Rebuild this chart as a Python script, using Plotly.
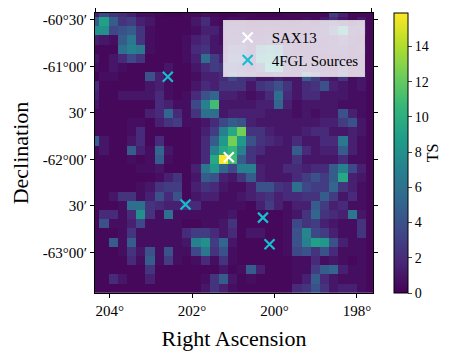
import numpy as np
import plotly.graph_objects as go

# TS map, 31 x 31 cells, first row = top (highest Dec), first column = left (highest RA)
ts_map = [
    [1.4, 3.5, 2.4, 1.9, 1.4, .6, .6, .3, .2, .2, .3, .3, .6, .3, .2, .2, .3, .3, .2, .2, .2, .3, .3, .3, .3, .3, 2.9, 1.4, .3, .3, .3],
    [4.6, 9, 4.6, 2.4, 2.9, 1.4, 1, .3, .3, .3, .3, 1, 1.9, .6, .3, .6, .6, .3, .3, .3, .3, .3, .3, .6, .3, 1, 1.9, 1, .3, 1, .3],
    [8, 8, 3.5, 4, 4.6, 2.4, .6, .3, .3, .3, .3, .6, 1.4, 1.4, .6, 1, 1, .6, .6, 1, .6, .6, .6, .6, 1, 1.4, 3.5, 8, 1.4, 1.4, .3],
    [1.4, 1, .6, 4.6, 6.3, 2.4, .6, .3, .3, .3, .6, 1.4, 1.9, 1, .6, 1.4, 1.4, 1, 1, 1.4, 1, .6, .6, 1, 1, 1, 1.4, 1.9, 1, .6, .3],
    [.3, .3, .3, 5.8, 6.9, 6.3, .6, .3, .3, .3, .6, 1.9, 2.4, 1, 1, 2.4, 2.4, 1.4, 5.8, 6.9, 5.8, 1.4, .6, .6, 1, 1, 1.4, 1.4, .6, 1, .3],
    [1, .3, 1, 1.9, 3.5, 2.4, .3, .3, .3, .3, .6, 1.4, 5.8, 2.9, 1.4, 3.5, 3.5, 1.4, 6.9, 8, 6.9, 1.4, 1, 1, .6, .6, .6, 1, .6, .6, .3],
    [.6, .3, 1, .6, .3, .3, .3, .3, 1, .3, .3, 1, 1.9, 2.9, 2.4, 2.4, 1.9, 1.4, 2.4, 9, 8.5, 1.4, 1, 1.4, 1, 1, .6, 1.9, .6, .6, .3],
    [.2, .6, .6, .3, .3, .3, 4, 1.4, .6, .3, .3, .6, 1.4, 1.4, 1.9, 3.5, 2.4, 1.9, 1, 1, 1.4, 1, 1, 4.6, 2.9, 1.4, 1, 2.4, .6, 1, .3],
    [1.9, .3, .3, .3, .3, .3, 1, 1.4, .6, .3, .3, 1, 1.9, 1.4, 2.4, 2.4, 2.4, 1, 2.4, 2.9, 4, 2.4, 1, 1.9, 2.4, 4, 1.4, 1, .6, 1, .3],
    [1.4, .3, .3, 1, 1, 1, 1, 1.9, .6, .3, .6, 1.9, 4, 5.2, 1.4, 1.4, 1, .6, 1, 1.9, 5.8, 1.9, 1, 1.9, 1.9, 1, 1, 1, .6, .6, .3],
    [1, .3, .3, .3, .3, .3, .3, 1.9, 1.4, .6, .6, 3.5, 6.9, 11, 1, 1, 1, 1, 1.4, 1.4, 5.2, 1.4, .6, 1, 1, 1, 1, .6, .6, .6, .3],
    [.3, .3, .3, .3, .3, .3, 1.4, 1.9, 5.2, 1.9, .6, 2.4, 5.8, 5.8, 1, 1.4, 1.4, 1.4, 1.4, 1, 1, 1, .6, 1, .6, 1, 1, 4, 1.4, .6, .3],
    [.3, .3, .3, .3, .6, .6, .3, 1.4, 2.4, 2.9, .6, .6, 1, 1.9, 3.5, 4.6, 4, 1.4, 1, 1, 1, 1, 1, 1, 1, 1.4, 1.4, 2.9, 4, 1, .3],
    [.3, .3, .3, .3, .6, 1.9, .3, .3, .3, .3, .3, .6, 1.4, 2.9, 6.9, 9.5, 12.5, 2.4, 2.4, 1.4, 1, 1, 1, 1.4, 1.9, 1.9, 1, 1, 1.4, 1, .3],
    [4.6, 1, .3, .3, 1, 1.9, .3, 1.9, .3, .3, .3, .6, 1.9, 4.6, 8.5, 12.5, 8.5, 4, 2.4, 1.9, 1.4, 1, 1.9, 1, 1, 1.9, 1.9, 6.3, 1.4, .6, .3],
    [.3, 1, .3, .3, 4.6, 1.4, .6, 5.2, 1, .3, .3, .6, 1.9, 6.9, 9.5, 10.5, 6.9, 2.4, 1.9, 1, 1, 1, 4.6, 1.9, 1, 1.4, 1.4, 4.6, 1.4, .6, .3],
    [.3, .3, .3, .3, .6, .3, .6, 4.6, .6, .3, .3, .6, 1.9, 9.5, 15.9, 11, 4.6, 2.4, 1, 1, 1, 1, 2.4, 1, 1, 1, 1, 1.9, .6, .6, .3],
    [.3, .3, .3, .3, .3, .6, .6, 1, .3, .3, .3, 1.4, 6.3, 8.5, 5.2, 3.5, 6.9, 6.9, 1.4, 1, 1, 1.9, 1.9, 1.4, 1.9, 1.9, 4.6, 6.9, 3.5, 1.4, .3],
    [.3, .3, .3, .3, .3, .3, .3, .6, 1.4, 2.4, .3, 1, 4.6, 4, 1.4, 1, 2.4, 4.6, 1.4, 1, 1, 1, 1.9, 2.9, 4, 2.9, 4.6, 9.5, 1.4, 1, .3],
    [.3, .3, .3, .3, .3, .6, 1, 2.4, 2.9, 2.9, .3, 1.4, 2.4, 1.9, 1, .6, .6, 1.4, 4, 4, 2.4, 1.9, 5.8, 3.5, 2.9, 2.9, 5.2, 2.4, 1.4, .6, .3],
    [.3, .3, 1, 2.4, 2.4, .6, 1.4, 4, 1.9, 4, .3, 1, 1.4, 1.4, .6, .6, 1, 1.4, 1.9, 2.4, 1.4, 1.9, 1.9, 2.4, 2.4, 4.6, 2.9, 1, 1.9, .6, .3],
    [.3, .3, .3, .6, 5.8, 5.8, 2.4, 1.9, 1.4, 1.4, 1.9, 1.9, .6, .6, .6, .6, .6, .3, 1.4, 2.9, 1.4, .6, 1.4, 1.4, 4.6, 2.9, 1.4, 1.9, .6, .6, .3],
    [.3, 1.9, 1.9, .6, 1.9, 8, 2.4, .6, 5.8, .6, .6, .6, .6, .6, .6, 1, .3, .3, .3, .3, .3, .6, 1, 2.4, 5.2, 2.4, 1.9, 1.4, 6.3, 1, .3],
    [.3, 4, .6, .6, 1.4, 3.5, .6, .6, .6, .6, .3, .3, .6, .6, 1, 2.4, .3, .3, .3, .3, .3, .6, 3.5, 2.4, 2.9, 1.4, 1, .6, .6, 2.4, .3],
    [.3, .3, .3, .6, 2.4, .6, .6, .6, .6, .6, 1.9, 2.9, 2.9, 1.9, 1, 1.9, .3, 1, 1, .3, .3, .6, 4, 7.4, 3.5, 2.9, 1.4, .6, .6, 2.4, .3],
    [.3, .3, 4.6, .6, 4.6, .6, .6, .6, .6, .6, 1, 6.9, 8, 2.9, 5.2, 1, .3, .3, .3, .3, .3, .6, 4, 6.9, 9, 8.5, 4, 1.4, .6, .6, .3],
    [.3, .3, .3, .6, 2.4, 1, 4, .6, 4, .6, .6, 3.5, 6.3, 2.4, 4, .6, .3, .3, .3, .3, .3, .6, 3.5, 4, 2.4, 4, 1.9, .6, .6, .6, .3],
    [.3, .3, .3, .3, 1.9, .6, 4.6, .6, 2.9, .6, .3, .6, 1.9, .6, 2.4, .6, .3, .3, .3, .3, .3, .3, .6, .6, 1.9, .6, 1, .6, .3, .6, .3],
    [.3, .3, .3, .3, .3, .3, 2.4, .3, .3, .3, .3, .3, .3, .3, 1, .3, .6, 4.6, 1.4, .3, .3, .3, .6, .6, 2.9, 4.6, 5.2, 1.4, .6, .6, .3],
    [.3, .3, 1.9, 1, .3, .3, 1.4, .3, .3, .3, .3, .3, .6, 2.4, 4.6, 1, .3, .6, .3, .3, .3, .3, .6, 1.4, 4.6, 1.9, 1, .6, .6, .6, .3],
    [.3, .3, .3, .3, .3, .3, .3, .3, .3, .3, .3, .3, 1, 2.4, 1.4, .6, .3, .3, .3, .3, .3, .3, 1.9, 2.4, 4, 2.4, 1, 1.4, 1.4, .6, .3],
]

# map grid (degrees)
ra_start, ra_step = 204.362, -0.2233
dec_start, dec_step = -60.4204, -0.0989

sax_ra = [201.11]
sax_dec = [-61.978]
fgl_ra = [202.59, 202.16, 200.28, 200.12]
fgl_dec = [-61.113, -62.487, -62.627, -62.914]

ra_ticks = [204, 202, 200, 198]
ra_labels = ["204°", "202°", "200°", "198°"]
dec_ticks = [-60.5, -61.0, -61.5, -62.0, -62.5, -63.0]
dec_labels = ["-60°30′", "-61°00′", "30′", "-62°00′", "30′", "-63°00′"]

ts_max = 15.9

n = len(ts_map)
ra_c = ra_start + ra_step * np.arange(n)
dec_c = dec_start + dec_step * np.arange(n)

# meridians converge towards the top edge
ra_top = [201.0 + (r - 201.0) * 1.117 for r in ra_ticks]

font = "Liberation Serif"

fig = go.Figure()
fig.add_trace(go.Heatmap(
    z=ts_map, x=ra_c, y=dec_c, colorscale="Viridis", zmin=0, zmax=ts_max,
    showlegend=False,
    colorbar=dict(
        title=dict(text="TS", side="right", font=dict(size=16, family=font)),
        x=1.0745, xanchor="left", y=0.5, yanchor="middle",
        xpad=0, ypad=0,
        thickness=14, lenmode="pixels", len=280,
        outlinecolor="black", outlinewidth=1,
        tickvals=[0, 2, 4, 6, 8, 10, 12, 14], ticks="outside", ticklen=4,
        tickfont=dict(size=14, family=font),
    ),
))
fig.add_trace(go.Scatter(
    x=sax_ra, y=sax_dec, mode="markers", name="SAX13",
    marker=dict(symbol="x-thin", size=10, line=dict(color="white", width=2.2)),
))
fig.add_trace(go.Scatter(
    x=fgl_ra, y=fgl_dec, mode="markers", name="4FGL Sources",
    marker=dict(symbol="x-thin", size=10, line=dict(color="#17becf", width=2.2)),
))
fig.add_trace(go.Scatter(
    x=sax_ra, y=sax_dec, xaxis="x2", mode="markers", opacity=0,
    showlegend=False, hoverinfo="skip",
))

x_range = [204.357, 197.609]
fig.update_layout(
    width=460, height=357,
    margin=dict(l=95, r=87, t=13, b=64),
    plot_bgcolor="white", paper_bgcolor="white",
    font=dict(family=font, color="black"),
    xaxis=dict(
        range=x_range, tickvals=ra_ticks, ticktext=ra_labels, automargin=False,
        ticks="outside", ticklen=4, tickcolor="black",
        showline=True, linecolor="black", linewidth=1, mirror=True,
        showgrid=False, zeroline=False, tickfont=dict(size=15),
        title=dict(text="Right Ascension", font=dict(size=22), standoff=12),
    ),
    xaxis2=dict(
        overlaying="x", side="top", range=x_range, tickvals=ra_top, automargin=False,
        showticklabels=False, ticks="outside", ticklen=4, tickcolor="black",
        showgrid=False, zeroline=False, showline=False,
    ),
    yaxis=dict(
        range=[-63.4376, -60.427], tickvals=dec_ticks, ticktext=dec_labels,
        automargin=False,
        ticks="outside", ticklen=4, tickcolor="black",
        showline=True, linecolor="black", linewidth=1, mirror="ticks",
        showgrid=False, zeroline=False, tickfont=dict(size=15),
        title=dict(text="Declination", font=dict(size=22), standoff=8),
    ),
    legend=dict(
        x=0.97, y=0.974, xanchor="right", yanchor="top",
        bgcolor="rgba(255,255,255,0.8)", bordercolor="#cccccc", borderwidth=1,
        font=dict(size=15, family=font), tracegroupgap=0, itemwidth=38,
    ),
)

fig.write_html("out.html", config={"displayModeBar": False},
               post_script="document.body.style.margin='0';")
